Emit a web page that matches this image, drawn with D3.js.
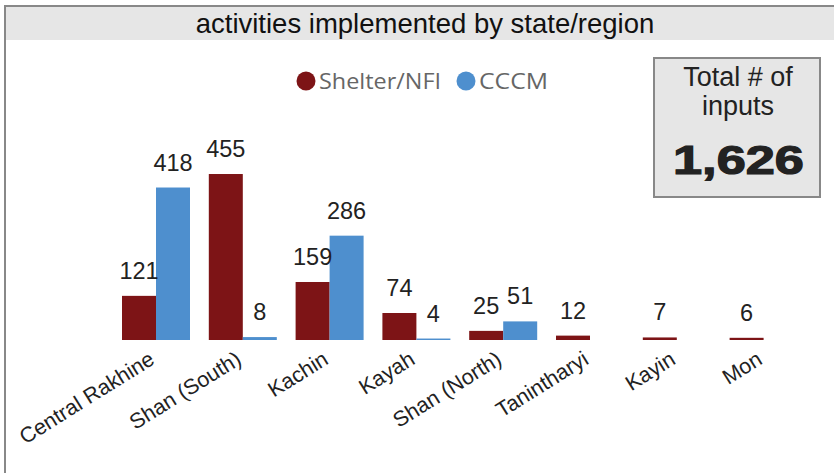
<!DOCTYPE html>
<html><head><meta charset="utf-8">
<script src="https://cdn.jsdelivr.net/npm/d3@7"></script>
<style>
html,body{margin:0;padding:0;background:#fff;}
svg{display:block;}
</style></head>
<body>
<svg id="c" width="834" height="473"></svg>
<script>
const title = "activities implemented by state/region";
const categories = ["Central Rakhine","Shan (South)","Kachin","Kayah","Shan (North)","Tanintharyi","Kayin","Mon"];
const seriesNames = ["Shelter/NFI","CCCM"];
const shelterValues = [121,455,159,74,25,12,7,6];
const cccmValues = [418,8,286,4,51,0,0,0];
const colors = ["#7d1416","#4e8fce"];
const kpiLabel = ["Total # of","inputs"];

const total = d3.sum(shelterValues) + d3.sum(cccmValues);
const svg = d3.select("#c");
const FONT = "Liberation Sans, Arial, sans-serif";

// frame + title band
svg.append("rect").attr("x",5).attr("y",6).attr("width",840).attr("height",34).attr("fill","#e6e6e6");
svg.append("line").attr("x1",5).attr("x2",834).attr("y1",6).attr("y2",6).attr("stroke","#888").attr("stroke-width",2);
svg.append("line").attr("x1",5).attr("x2",5).attr("y1",5).attr("y2",473).attr("stroke","#888").attr("stroke-width",2);
svg.append("text").attr("x",425).attr("y",33).attr("text-anchor","middle")
  .attr("font-family",FONT).attr("font-size",27.5).attr("fill","#111").text(title);

// legend
const legend = [{n:seriesNames[0],c:colors[0],cx:306,tx:319,w:122},{n:seriesNames[1],c:colors[1],cx:466,tx:479,w:69}];
legend.forEach(l=>{
  svg.append("circle").attr("cx",l.cx).attr("cy",81).attr("r",9.5).attr("fill",l.c);
  svg.append("text").attr("x",l.tx).attr("y",89).attr("font-family","Open Sans, Noto Sans, sans-serif")
    .attr("font-size",22).attr("fill","#666").attr("textLength",l.w).attr("lengthAdjust","spacingAndGlyphs").text(l.n);
});

// scales
const x = d3.scaleBand().domain(categories).range([112.6,807]).paddingInner(0.2166).paddingOuter(0.1083);
const xs = d3.scaleBand().domain(seriesNames).range([0,x.bandwidth()]);
const y = d3.scaleLinear().domain([0,500]).range([340,157.6]);

const data = categories.map((c,i)=>({cat:c, vals:[{s:seriesNames[0],v:shelterValues[i],c:colors[0]},{s:seriesNames[1],v:cccmValues[i],c:colors[1]}]}));

const g = svg.append("g");
const grp = g.selectAll("g.cat").data(data).join("g").attr("transform",d=>`translate(${x(d.cat)},0)`);
grp.selectAll("rect").data(d=>d.vals.filter(v=>v.v>0)).join("rect")
  .attr("x",d=>xs(d.s)).attr("width",xs.bandwidth())
  .attr("y",d=>y(d.v)).attr("height",d=>y(0)-y(d.v)).attr("fill",d=>d.c);
grp.selectAll("text").data(d=>d.vals.filter(v=>v.v>0)).join("text")
  .attr("x",d=>xs(d.s)+xs.bandwidth()/2).attr("y",d=>y(d.v)-17)
  .attr("text-anchor","middle").attr("font-family",FONT)
  .attr("font-size",23.5).attr("fill","#222").text(d=>d.v);

// x axis
const ax = svg.append("g").attr("transform","translate(0,340)").call(d3.axisBottom(x).tickSize(0).tickPadding(0));
ax.select(".domain").remove();
ax.selectAll("text").attr("font-family",FONT).attr("font-size",21.5).attr("fill","#222")
  .attr("text-anchor","end").attr("dy",0).attr("y",0)
  .attr("transform","translate(0,23) rotate(-32)");

// KPI box
svg.append("rect").attr("x",654).attr("y",58).attr("width",166).attr("height",139)
  .attr("fill","#e6e6e6").attr("stroke","#888").attr("stroke-width",2);
svg.append("text").attr("x",738).attr("y",86).attr("text-anchor","middle").attr("font-family",FONT)
  .attr("font-size",27).attr("fill","#222").text(kpiLabel[0]);
svg.append("text").attr("x",738).attr("y",115).attr("text-anchor","middle").attr("font-family",FONT)
  .attr("font-size",27).attr("fill","#222").text(kpiLabel[1]);
svg.append("text").attr("x",673).attr("y",174).attr("font-family",FONT)
  .attr("font-size",40).attr("font-weight","bold").attr("fill","#222").attr("stroke","#222").attr("stroke-width",1.2)
  .attr("textLength",131).attr("lengthAdjust","spacingAndGlyphs").text(d3.format(",")(total));
</script>
</body></html>
